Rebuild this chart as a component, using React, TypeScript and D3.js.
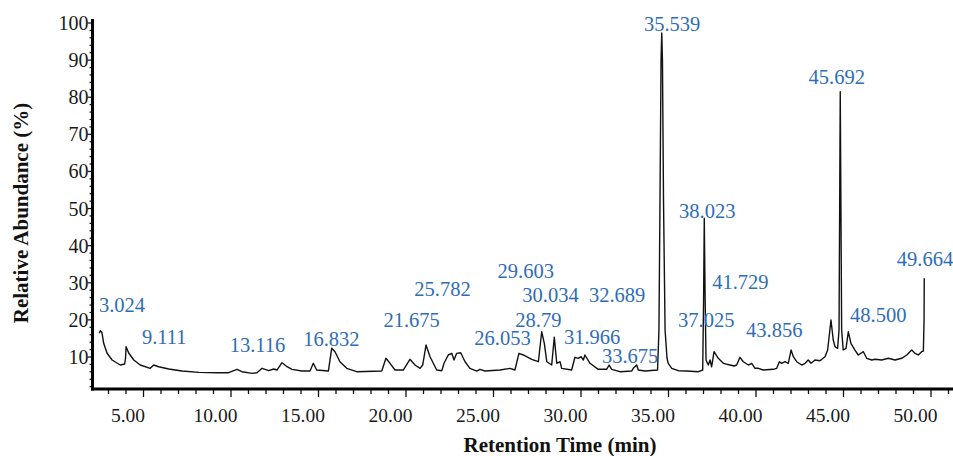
import React from "react";
import * as d3 from "d3";

const retentionTimes = [
  3.36, 3.42, 3.51, 3.61, 3.8, 4.09, 4.37, 4.56, 4.81, 4.86, 4.89, 5.04, 5.33, 5.7, 6.27, 6.47, 6.75, 7.33, 8.09, 9.04,
  10.18, 10.75, 11.23, 11.51, 12.09, 12.37, 12.66, 13.04, 13.33, 13.51, 13.8, 14.09, 14.37, 14.94,
  15.4, 15.59, 15.78, 16.45, 16.64, 16.83, 17.11, 17.5, 18.07, 19.5, 19.74, 19.97, 20.26, 20.73, 21.11, 21.4, 21.69,
  21.84, 22.03, 22.26, 22.64, 22.93, 23.06, 23.3, 23.5, 23.63, 23.78, 24.01, 24.26, 24.54, 24.93, 25.11, 25.4, 26.26, 26.83,
  27.11, 27.34, 27.59, 28.07, 28.45, 28.64, 28.79, 28.93, 29.21, 29.36, 29.5, 29.69, 29.78, 30.35, 30.54, 30.73, 30.89,
  31.02, 31.11, 31.4, 31.87, 32.35, 32.49, 32.64, 33.11, 33.78, 33.87, 34.07, 34.16, 34.54, 35.26,
  35.34, 35.4, 35.46, 35.5, 35.54, 35.6, 35.69, 35.8, 35.87, 36.07, 36.45, 36.93, 37.59, 37.84,
  37.89, 37.93, 37.98, 38.03, 38.16, 38.26, 38.35, 38.49, 38.73, 39.02, 39.4, 39.63, 39.78, 39.97, 40.16, 40.45, 40.64,
  40.83, 41.02, 41.3, 41.87, 42.07, 42.22, 42.35, 42.54, 42.73, 42.89, 43.02, 43.21, 43.5, 43.69, 43.87, 44.03, 44.26,
  44.54, 44.83, 44.98, 45.17, 45.3, 45.4, 45.55, 45.63, 45.7, 45.78, 45.87, 46.03, 46.16, 46.31, 46.54, 46.73, 47.02,
  47.21, 47.5, 47.69, 48.07, 48.45, 48.83, 49.21, 49.5, 49.78, 49.97, 50.16, 50.35, 50.45, 50.49, 50.5,
];

const relativeAbundance = [
  16.38, 17.08, 16.65, 13.69, 11.08, 9.19, 8.38, 7.84, 8.11, 9.73, 12.77, 11.08, 9.19, 7.84, 6.95, 7.84, 7.38, 6.76, 6.22, 5.87,
  5.77, 5.77, 6.68, 6.04, 5.6, 5.77, 6.95, 6.31, 6.76, 6.49, 8.46, 7.38, 6.68, 6.22,
  6.22, 8.3, 6.49, 6.22, 12.34, 11.43, 8.73, 6.95, 6.04, 6.22, 9.65, 8.3, 6.49, 6.49, 9.38, 7.84, 6.95,
  7.84, 13.23, 10.08, 6.49, 6.31, 8.3, 10.54, 10.99, 9.19, 10.99, 11.16, 8.73, 6.95, 6.22, 6.68, 6.22, 6.49, 6.95,
  6.49, 10.99, 10.54, 9.38, 8.73, 16.81, 13.69, 8.73, 7.84, 15.31, 8.3, 8.73, 6.95, 6.49, 9.92, 9.65, 10.08,
  9.19, 10.54, 8.3, 6.68, 6.68, 7.84, 6.68, 6.04, 6.22, 6.95, 7.84, 6.49, 6.22, 6.49,
  17.27, 52.3, 90.0, 97.3, 90.0, 52.3, 17.27, 9.73, 8.3, 6.95, 6.31, 6.22, 6.04, 6.49,
  25.36, 47.37, 25.36, 9.19, 7.84, 9.19, 7.38, 11.43, 9.65, 8.3, 7.84, 7.57, 7.84, 9.92, 8.73, 7.84, 8.3,
  6.95, 6.95, 6.49, 6.68, 6.95, 8.73, 8.3, 8.73, 8.3, 11.88, 10.08, 8.73, 7.84, 8.3, 9.19, 8.3, 9.19,
  9.0, 10.08, 11.88, 19.97, 14.58, 12.77, 12.34, 17.27, 81.49, 17.27, 11.88, 12.34, 16.81, 13.69, 11.88, 10.54, 11.43,
  9.65, 9.19, 9.38, 9.19, 9.65, 9.19, 9.65, 10.54, 11.88, 10.99, 10.54, 11.43, 11.61, 19.97, 31.2,
];

const peakLabels = [
  "3.024", "9.111", "13.116", "16.832", "21.675", "25.782", "29.603", "30.034", "32.689", "28.79", "26.053",
  "31.966", "33.675", "35.539", "38.023", "41.729", "37.025", "43.856", "45.692", "48.500", "49.664",
];
const peakLabelTime = [
  4.66, 7.07, 12.4, 16.62, 21.21, 22.97, 27.73, 29.14, 32.95, 28.45, 26.4,
  31.52, 33.69, 36.09, 38.1, 39.99, 38.04, 41.93, 45.5, 47.87, 50.54,
];
const peakLabelAbundance = [
  22.2, 13.42, 11.43, 12.96, 18.16, 26.43, 31.2, 24.9, 24.9, 18.16, 13.23,
  13.5, 8.46, 97.85, 47.37, 28.24, 18.16, 15.31, 83.56, 19.51, 34.52,
];

const xTickValues = [5, 10, 15, 20, 25, 30, 35, 40, 45, 50];
const xMinorTickValues = d3.range(3, 53, 1);
const yTickValues = [10, 20, 30, 40, 50, 60, 70, 80, 90, 100];
const yMinorTickValues = d3.range(2, 101, 2);

const W = 953;
const H = 456;
const SERIF = "'Liberation Serif', 'Times New Roman', Times, serif";
const BLUE = "#2f6db7";

export default function App() {
  const x = d3.scaleLinear().domain([5, 50]).range([128, 915.5]);
  const y = d3.scaleLinear().domain([10, 100]).range([357, 23]);

  const axisX = 92.5;
  const axisY = 389;
  const axisTop = 19;
  const tickShift = 15.5;

  const line = d3
    .line<number>()
    .x((_, i) => x(retentionTimes[i]))
    .y((d) => y(d));

  return (
    <svg
      width={W}
      height={H}
      viewBox={`0 0 ${W} ${H}`}
      style={{ position: "absolute", left: 0, top: 0, background: "#fff" }}
    >
      <rect x={0} y={0} width={W} height={H} fill="#fff" />

      {/* trace */}
      <path d={line(relativeAbundance) || ""} fill="none" stroke="#111" strokeWidth={1.4} strokeLinejoin="round" />

      {/* y minor ticks */}
      {yMinorTickValues.map((v) => (
        <line
          key={"ym" + v}
          x1={axisX}
          x2={axisX - (v % 10 === 0 ? 5 : 3)}
          y1={y(v)}
          y2={y(v)}
          stroke="#111"
          strokeWidth={1.2}
        />
      ))}
      {/* x minor ticks */}
      {xMinorTickValues.map((v) => {
        const px = x(v) + tickShift;
        if (px < axisX + 3 || px > W) return null;
        return (
          <line
            key={"xm" + v}
            x1={px}
            x2={px}
            y1={axisY}
            y2={axisY + (v % 5 === 0 ? 8 : 5)}
            stroke="#111"
            strokeWidth={1.3}
          />
        );
      })}

      {/* axes */}
      <line x1={axisX} x2={axisX} y1={axisTop} y2={axisY + 1.5} stroke="#000" strokeWidth={3} />
      <line x1={axisX - 1.5} x2={W} y1={axisY} y2={axisY} stroke="#000" strokeWidth={3} />

      {/* y tick labels */}
      {yTickValues.map((v) => (
        <text
          key={"yl" + v}
          x={axisX - 4}
          y={y(v)}
          dy="0.35em"
          textAnchor="end"
          fontFamily={SERIF}
          fontSize={20}
          fill="#1a1a1a"
        >
          {v}
        </text>
      ))}

      {/* x tick labels */}
      {xTickValues.map((v) => (
        <text
          key={"xl" + v}
          x={x(v)}
          y={422}
          textAnchor="middle"
          fontFamily={SERIF}
          fontSize={19.5}
          fill="#1a1a1a"
        >
          {v.toFixed(2)}
        </text>
      ))}

      {/* peak labels */}
      {peakLabels.map((lbl, i) => (
        <text
          key={"pl" + i}
          x={x(peakLabelTime[i])}
          y={y(peakLabelAbundance[i])}
          textAnchor="middle"
          fontFamily={SERIF}
          fontSize={20.5}
          fill={BLUE}
        >
          {lbl}
        </text>
      ))}

      {/* axis titles */}
      <text
        x={560}
        y={452}
        textAnchor="middle"
        fontFamily={SERIF}
        fontWeight="bold"
        fontSize={21}
        fill="#111"
      >
        Retention Time (min)
      </text>
      <text
        transform={`translate(28,213) rotate(-90)`}
        textAnchor="middle"
        fontFamily={SERIF}
        fontWeight="bold"
        fontSize={21}
        fill="#111"
      >
        Relative Abundance (%)
      </text>
    </svg>
  );
}
